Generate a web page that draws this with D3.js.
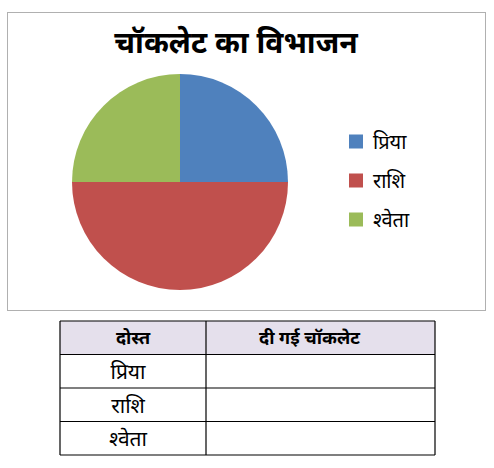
<!DOCTYPE html>
<html>
<head>
<meta charset="utf-8">
<script src="https://cdn.jsdelivr.net/npm/d3@7"></script>
<style>
  body { margin: 0; background: #fff; }
  svg text { font-family: "Noto Sans", "Noto Sans Devanagari", sans-serif; }
</style>
</head>
<body>
<div id="chart"></div>
<script>
const names = ["प्रिया", "राशि", "श्वेता"];
const shares = [25, 50, 25];
const colors = ["#4f81bd", "#c0504d", "#9bbb59"];
const title = "चॉकलेट का विभाजन";
const headers = ["दोस्त", "दी गई चॉकलेट"];

const svg = d3.select("#chart").append("svg")
  .attr("width", 494).attr("height", 468);

// chart frame
svg.append("rect")
  .attr("x", 7.5).attr("y", 12.5)
  .attr("width", 478).attr("height", 298)
  .attr("fill", "#fff").attr("stroke", "#b0b0b0");

svg.append("text")
  .attr("x", 236).attr("y", 53)
  .attr("text-anchor", "middle")
  .attr("font-size", 30).attr("font-weight", "bold")
  .text(title);

const data = names.map((name, i) => ({ name, value: shares[i], color: colors[i] }));

const pie = d3.pie().sort(null).value((d) => d.value);
const arc = d3.arc().innerRadius(0).outerRadius(108);

const g = svg.append("g").attr("transform", "translate(180,182)");
g.selectAll("path")
  .data(pie(data))
  .join("path")
  .attr("d", arc)
  .attr("fill", (d) => d.data.color);

// legend
const legendY = d3.scaleBand().domain(names).range([122, 239]);
const legend = svg.append("g");
const items = legend.selectAll("g")
  .data(data)
  .join("g")
  .attr("transform", (d) => `translate(349,${legendY(d.name) + legendY.bandwidth() / 2})`);
items.append("rect")
  .attr("y", -7).attr("width", 14).attr("height", 14)
  .attr("fill", (d) => d.color);
items.append("text")
  .attr("x", 24).attr("y", 7)
  .attr("font-size", 20)
  .text((d) => d.name);

// table
const cols = [60, 206, 435];
const rowY = d3.scaleBand().domain(d3.range(names.length + 1)).range([321, 455]);
const table = svg.append("g");
table.append("rect")
  .attr("x", cols[0]).attr("y", rowY(0))
  .attr("width", cols[2] - cols[0]).attr("height", rowY.bandwidth())
  .attr("fill", "#e5e0ec");

table.selectAll("line.h")
  .data(d3.range(names.length + 2))
  .join("line")
  .attr("class", "h")
  .attr("x1", cols[0]).attr("x2", cols[2])
  .attr("y1", (i) => (i <= names.length ? rowY(i) : rowY(names.length) + rowY.bandwidth()))
  .attr("y2", (i) => (i <= names.length ? rowY(i) : rowY(names.length) + rowY.bandwidth()))
  .attr("stroke", "#000").attr("stroke-width", 1.2);

table.selectAll("line.v")
  .data(cols)
  .join("line")
  .attr("class", "v")
  .attr("x1", (d) => d).attr("x2", (d) => d)
  .attr("y1", rowY(0)).attr("y2", 455)
  .attr("stroke", "#000").attr("stroke-width", 1.2);

// header labels (second one sits a little left of the cell centre)
const headX = [(cols[0] + cols[1]) / 2, (cols[1] + cols[2]) / 2 - 11];
table.selectAll("text.head")
  .data(headers)
  .join("text")
  .attr("class", "head")
  .attr("x", (d, i) => headX[i])
  .attr("y", rowY(0) + rowY.bandwidth() / 2 + 6)
  .attr("text-anchor", "middle")
  .attr("font-size", 18).attr("font-weight", "bold")
  .text((d) => d);

table.selectAll("text.row")
  .data(names)
  .join("text")
  .attr("class", "row")
  .attr("x", (cols[0] + cols[1]) / 2 - 5)
  .attr("y", (d, i) => rowY(i + 1) + rowY.bandwidth() / 2 + 8)
  .attr("text-anchor", "middle")
  .attr("font-size", 21)
  .text((d) => d);
</script>
</body>
</html>
